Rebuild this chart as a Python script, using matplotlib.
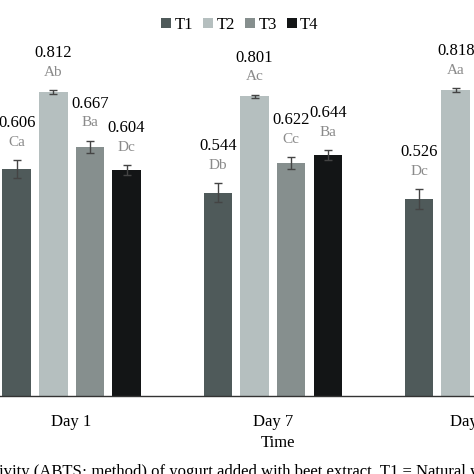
import matplotlib.pyplot as plt
import numpy as np

# ABTS antioxidant activity per treatment and storage day
days = ["Day 1", "Day 7", "Day 14"]
treatments = ["T1", "T2", "T3", "T4"]
values = {
    "T1": [0.606, 0.544, 0.526],
    "T2": [0.812, 0.801, 0.818],
    "T3": [0.667, 0.622, np.nan],
    "T4": [0.604, 0.644, np.nan],
}
errors = {
    "T1": [0.024, 0.025, 0.027],
    "T2": [0.005, 0.005, 0.005],
    "T3": [0.016, 0.016, np.nan],
    "T4": [0.013, 0.013, np.nan],
}
letters = {
    "T1": ["Ca", "Db", "Dc"],
    "T2": ["Ab", "Ac", "Aa"],
    "T3": ["Ba", "Cc", ""],
    "T4": ["Dc", "Ba", ""],
}
value_text = {
    "T1": ["0.606", "0.544", "0.526"],
    "T2": ["0.812", "0.801", "0.818"],
    "T3": ["0.667", "0.622", ""],
    "T4": ["0.604", "0.644", ""],
}
colors = ["#4f5a5a", "#b5bfbf", "#868f8e", "#131516"]

plt.rcParams['font.family'] = ['Liberation Serif', 'DejaVu Serif']

fig = plt.figure(figsize=(4.74, 4.74), dpi=100)
ax = fig.add_axes([0, 1 - 396 / 474, 1, 374 / 474])

x = np.arange(len(days))
width = 0.1415
step = 0.182

for i, t in enumerate(treatments):
    pos = x + (i - 1.5) * step
    ax.bar(pos, values[t], width, color=colors[i], label=t, zorder=2)
    ax.errorbar(pos, values[t], yerr=errors[t], fmt='none', ecolor='#444444',
                elinewidth=1, capsize=3, capthick=1, zorder=3)
    for j in range(len(days)):
        if not value_text[t][j]:
            continue
        top = values[t][j] + errors[t][j]
        ax.annotate(letters[t][j], (pos[j], top), xytext=(0, 18),
                    textcoords='offset pixels', ha='center', va='center',
                    fontsize=11, color='#8a8a8a', annotation_clip=False)
        ax.annotate(value_text[t][j], (pos[j], top), xytext=(0, 37),
                    textcoords='offset pixels', ha='center', va='center',
                    fontsize=12, color='black', annotation_clip=False)

ax.set_xlim(-0.356, 1.956)
ax.set_ylim(0, 1.0)
ax.set_xticks(x)
ax.set_xticklabels(days, fontsize=12)
ax.tick_params(axis='x', length=0, pad=13)
ax.set_yticks([])
for s in ['top', 'right', 'left']:
    ax.spines[s].set_visible(False)
ax.spines['bottom'].set_color('#333333')
ax.spines['bottom'].set_linewidth(1)

fig.text(278 / 474, 1 - 443 / 474, "Time", ha='center', va='center', fontsize=12)
fig.text(-0.002, 1 - 464 / 474,
         "ivity (ABTS\u00b7 method) of yogurt added with beet extract. T1 = Natural yogurt",
         ha='left', va='top', fontsize=12)

fig.legend(loc='center', bbox_to_anchor=(240 / 474, 1 - 25 / 474), ncol=4,
           frameon=False, fontsize=12, handlelength=0.6, handleheight=0.6,
           handletextpad=0.2, columnspacing=0.6)

fig.savefig("out.png", dpi=100)
